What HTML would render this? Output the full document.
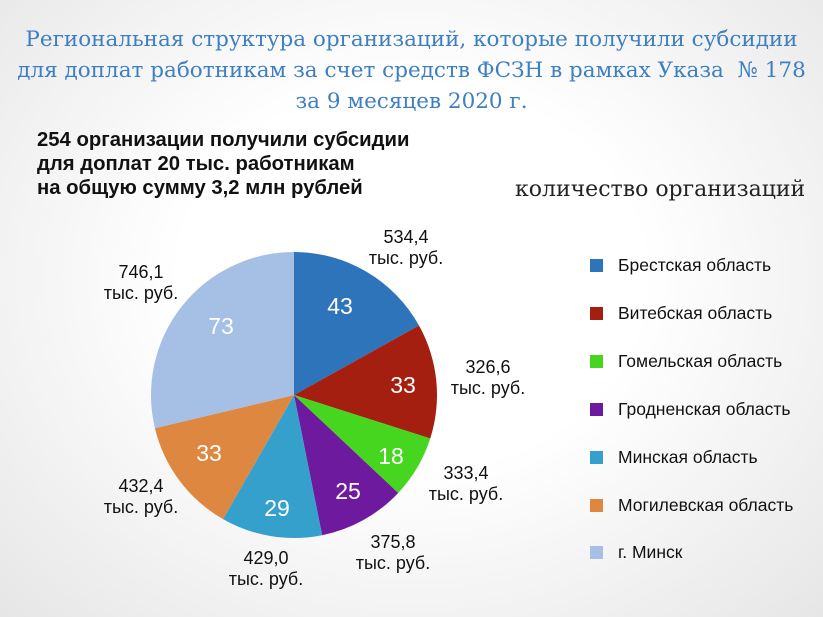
<!DOCTYPE html>
<html><head><meta charset="utf-8"><style>
body{margin:0;width:823px;height:617px;overflow:hidden;background:radial-gradient(ellipse at 50% 45%,#ffffff 40%,#e6e6e6 100%);position:relative;font-family:"Liberation Sans",sans-serif}
.t{position:absolute;left:0;width:823px;text-align:center;font-family:"DejaVu Serif",serif;color:#3d7fc1;font-size:21.5px;line-height:31px;top:24px;white-space:nowrap}
.s{position:absolute;left:37px;top:128px;font-weight:bold;font-size:20.3px;line-height:24px;color:#111;white-space:nowrap}
.k{position:absolute;left:515px;top:177px;font-family:"DejaVu Serif",serif;font-size:22px;color:#222;white-space:nowrap}
.lg{position:absolute;left:590px;font-size:17.5px;color:#111;white-space:nowrap}
.lg i{display:inline-block;width:13px;height:13px;margin-right:15px;vertical-align:-1px}
.l{position:absolute;font-size:18px;line-height:21px;color:#111;text-align:center}
</style></head><body>
<div class="t">Региональная структура организаций, которые получили субсидии<br>для доплат работникам за счет средств ФСЗН в рамках Указа&nbsp; № 178<br>за 9 месяцев 2020 г.</div>
<div class="s">254 организации получили субсидии<br>для доплат 20 тыс. работникам<br>на общую сумму 3,2 млн рублей</div>
<div class="k">количество организаций</div>
<svg id="p" width="823" height="617" style="position:absolute;left:0;top:0"></svg>
<div class="lg" style="top:255px"><i style="background:#2e74bb"></i>Брестская область</div>
<div class="lg" style="top:303px"><i style="background:#a41f10"></i>Витебская область</div>
<div class="lg" style="top:351px"><i style="background:#47d61f"></i>Гомельская область</div>
<div class="lg" style="top:399px"><i style="background:#6e1a9e"></i>Гродненская область</div>
<div class="lg" style="top:447px"><i style="background:#36a0cd"></i>Минская область</div>
<div class="lg" style="top:495px"><i style="background:#dd8741"></i>Могилевская область</div>
<div class="lg" style="top:542px"><i style="background:#a6bfe5"></i>г. Минск</div>
<div class="l" style="left:356px;top:227px;width:100px">534,4<br>тыс. руб.</div>
<div class="l" style="left:438px;top:357px;width:100px">326,6<br>тыс. руб.</div>
<div class="l" style="left:416px;top:463px;width:100px">333,4<br>тыс. руб.</div>
<div class="l" style="left:343px;top:532px;width:100px">375,8<br>тыс. руб.</div>
<div class="l" style="left:216px;top:548px;width:100px">429,0<br>тыс. руб.</div>
<div class="l" style="left:91px;top:476px;width:100px">432,4<br>тыс. руб.</div>
<div class="l" style="left:91px;top:262px;width:100px">746,1<br>тыс. руб.</div>
<script>
var d=[[43,"#2e74bb",340,306],[33,"#a41f10",403,385],[18,"#47d61f",391,456],[25,"#6e1a9e",348,491],[29,"#36a0cd",277,508],[33,"#dd8741",209,453],[73,"#a6bfe5",221,326]];
var cx=294,cy=395,r=143,a=0,s="";
d.forEach(function(e){var b=a+e[0]/254*2*Math.PI;
var x1=cx+r*Math.sin(a),y1=cy-r*Math.cos(a),x2=cx+r*Math.sin(b),y2=cy-r*Math.cos(b);
s+='<path d="M'+cx+','+cy+'L'+x1+','+y1+'A'+r+','+r+' 0 '+(b-a>Math.PI?1:0)+',1 '+x2+','+y2+'Z" fill="'+e[1]+'"/>';
s+='<text x="'+e[2]+'" y="'+(e[3]+8)+'" text-anchor="middle" fill="#fff" font-family="Liberation Sans" font-size="23">'+e[0]+'</text>';a=b;});
document.getElementById("p").innerHTML=s;
</script>
</body></html>
